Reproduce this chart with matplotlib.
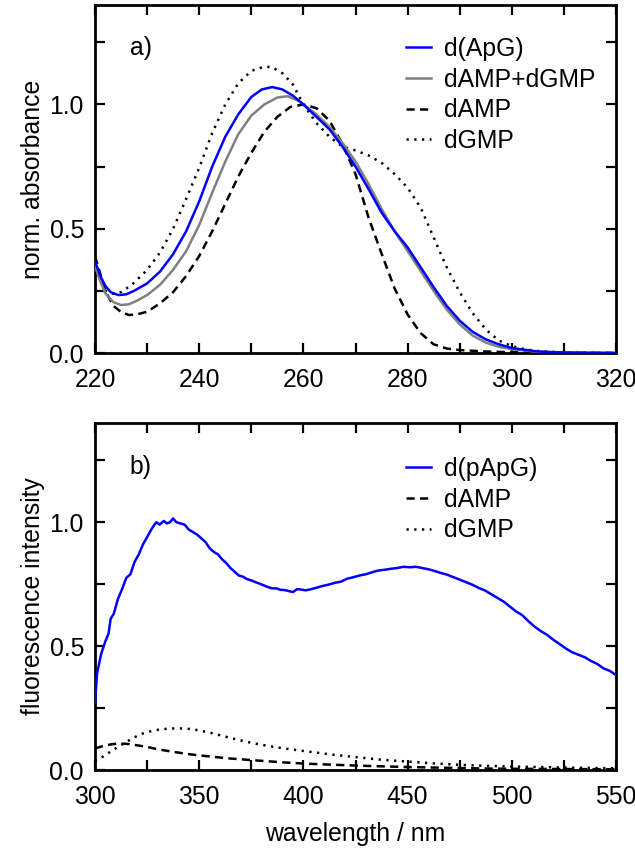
import matplotlib
matplotlib.use("Agg")
import matplotlib.pyplot as plt
from matplotlib.ticker import MultipleLocator

plt.rcParams['font.family'] = ['Liberation Sans', 'DejaVu Sans']

# ---------------- panel a) absorbance ----------------
wl_apg = [220, 221, 222, 223, 224.5, 226, 227.5, 230, 232.5, 235, 237.5, 240, 242.5, 245,
          247.5, 250, 252, 254, 256, 258, 260, 262.5, 265, 267.5, 270, 272.5, 275, 277.5,
          280, 282.5, 285, 287.5, 290, 292.5, 295, 297.5, 300, 305, 310, 320]
abs_apg = [0.37, 0.31, 0.27, 0.245, 0.233, 0.236, 0.25, 0.28, 0.328, 0.398, 0.49, 0.61, 0.75,
           0.87, 0.96, 1.03, 1.06, 1.07, 1.06, 1.035, 1.0, 0.95, 0.90, 0.83, 0.75, 0.66, 0.565,
           0.49, 0.425, 0.345, 0.265, 0.19, 0.13, 0.085, 0.055, 0.035, 0.02, 0.006, 0.002, 0.0]

wl_sum = [220, 221, 222, 223.5, 225, 226.5, 228, 230, 232.5, 235, 237.5, 240, 242.5, 245,
          247.5, 250, 252.5, 255, 257, 259, 260, 262.5, 265, 267.5, 270, 272.5, 275, 277.5,
          280, 282.5, 285, 287.5, 290, 292.5, 295, 297.5, 300, 305, 310, 320]
abs_sum = [0.35, 0.29, 0.24, 0.205, 0.193, 0.196, 0.21, 0.233, 0.275, 0.335, 0.41, 0.515,
           0.645, 0.77, 0.88, 0.955, 1.0, 1.028, 1.033, 1.015, 1.0, 0.96, 0.91, 0.845, 0.77,
           0.68, 0.58, 0.49, 0.41, 0.33, 0.25, 0.175, 0.115, 0.07, 0.042, 0.025, 0.015, 0.005,
           0.001, 0.0]

wl_damp = [220, 221, 222, 223.5, 225, 226.5, 228, 230, 232.5, 235, 237.5, 240, 242.5, 245,
           247.5, 250, 252.5, 255, 257.5, 260, 262.5, 265, 267.5, 270, 272.5, 275, 277.5,
           280, 282.5, 285, 287.5, 290, 295, 300, 310, 320]
abs_damp = [0.39, 0.32, 0.25, 0.19, 0.165, 0.153, 0.155, 0.166, 0.2, 0.245, 0.31, 0.39, 0.49,
            0.6, 0.71, 0.805, 0.89, 0.95, 0.99, 1.0, 0.985, 0.935, 0.84, 0.72, 0.545, 0.40,
            0.26, 0.155, 0.08, 0.035, 0.018, 0.012, 0.006, 0.003, 0.001, 0.0]

wl_dgmp = [220, 221, 222, 223.5, 225, 227, 230, 232.5, 235, 237.5, 240, 242.5, 245, 247.5,
           250, 252.5, 254, 256, 258, 260, 262.5, 265, 267.5, 270, 272.5, 275, 277.5, 280,
           282.5, 285, 287.5, 290, 292.5, 295, 297.5, 300, 302.5, 305, 310, 320]
abs_dgmp = [0.37, 0.30, 0.25, 0.238, 0.245, 0.273, 0.334, 0.405, 0.50, 0.62, 0.745, 0.885,
            1.0, 1.085, 1.135, 1.152, 1.15, 1.125, 1.08, 1.0, 0.925, 0.87, 0.83, 0.815, 0.795,
            0.765, 0.72, 0.665, 0.585, 0.465, 0.345, 0.245, 0.16, 0.095, 0.05, 0.028, 0.015,
            0.008, 0.002, 0.0]

# ---------------- panel b) fluorescence ----------------
wl_fl = [300, 301, 303, 305, 306.5, 307.5, 309, 311, 313, 315, 317, 319, 321, 323, 325, 327,
         328.5, 329.5, 331, 333, 334.5, 336, 337.5, 339, 341, 343, 345, 347, 349, 351, 353,
         355, 357, 359, 361, 363, 365, 367, 369, 371, 373, 375, 377, 379, 381, 383, 385, 387,
         389, 391, 393, 395, 397, 399, 401, 403, 406, 409, 412, 415, 418, 421, 424, 427, 430,
         433, 436, 439, 442, 445, 448, 451, 454, 457, 460, 463, 466, 469, 472, 475, 478, 481,
         484, 487, 490, 493, 496, 499, 502, 505, 508, 511, 514, 517, 520, 523, 526, 529, 532,
         535, 538, 541, 544, 547, 550]
fl_papg = [0.27, 0.39, 0.47, 0.52, 0.55, 0.61, 0.63, 0.69, 0.73, 0.775, 0.79, 0.84, 0.87,
           0.91, 0.94, 0.97, 0.99, 1.0, 0.99, 1.005, 0.995, 1.0, 1.015, 1.0, 0.995, 0.99, 0.97,
           0.96, 0.95, 0.935, 0.92, 0.895, 0.88, 0.87, 0.85, 0.835, 0.815, 0.8, 0.785, 0.78,
           0.77, 0.765, 0.758, 0.752, 0.745, 0.738, 0.733, 0.733, 0.727, 0.726, 0.722, 0.718,
           0.73, 0.728, 0.725, 0.728, 0.735, 0.742, 0.748, 0.755, 0.76, 0.772, 0.778, 0.785,
           0.79, 0.798, 0.805, 0.808, 0.812, 0.815, 0.82, 0.818, 0.82, 0.815, 0.81, 0.803,
           0.795, 0.788, 0.778, 0.768, 0.758, 0.748, 0.735, 0.725, 0.71, 0.695, 0.68, 0.66,
           0.64, 0.625, 0.6, 0.578, 0.56, 0.545, 0.525, 0.508, 0.49, 0.475, 0.465, 0.455, 0.44,
           0.428, 0.41, 0.4, 0.383]

wl_fl_damp = [300, 304, 308, 312, 316, 320, 325, 330, 337, 345, 350, 357, 364, 372, 380, 390,
              400, 412, 425, 437, 450, 462, 475, 487, 500, 525, 550]
fl_damp = [0.087, 0.097, 0.104, 0.107, 0.105, 0.1, 0.093, 0.084, 0.074, 0.064, 0.059, 0.053,
           0.047, 0.042, 0.037, 0.031, 0.026, 0.022, 0.018, 0.015, 0.012, 0.01, 0.008, 0.006,
           0.005, 0.004, 0.003]

wl_fl_dgmp = [300, 303, 306, 310, 314, 318, 322, 326, 330, 335, 340, 345, 350, 356, 362, 369,
              376, 383, 390, 400, 412, 425, 437, 450, 462, 475, 487, 500, 525, 550]
fl_dgmp = [0.035, 0.05, 0.066, 0.088, 0.108, 0.128, 0.145, 0.155, 0.162, 0.167, 0.168, 0.166,
           0.16, 0.149, 0.136, 0.121, 0.108, 0.097, 0.088, 0.077, 0.064, 0.052, 0.042, 0.034,
           0.027, 0.021, 0.017, 0.014, 0.01, 0.007]

FS = 17.8
fig = plt.figure(figsize=(6.35, 8.5), dpi=100)
ax1 = fig.add_axes([0.1496, 0.5847, 0.8205, 0.4094])
ax2 = fig.add_axes([0.1496, 0.0941, 0.8205, 0.4082])

LW = 1.8
dash = (0, (3.3, 2.1))
dot = (0, (0.9, 2.2))

ax1.plot(wl_apg, abs_apg, color='#0000ff', lw=LW, label='d(ApG)', zorder=4)
ax1.plot(wl_sum, abs_sum, color='#808080', lw=LW, label='dAMP+dGMP', zorder=3)
ax1.plot(wl_damp, abs_damp, color='black', lw=LW, ls=dash, label='dAMP', zorder=2)
ax1.plot(wl_dgmp, abs_dgmp, color='black', lw=LW, ls=dot, label='dGMP', zorder=2)

ax2.plot(wl_fl, fl_papg, color='#0000ff', lw=LW, label='d(pApG)', zorder=4)
ax2.plot(wl_fl_damp, fl_damp, color='black', lw=LW, ls=dash, label='dAMP', zorder=2)
ax2.plot(wl_fl_dgmp, fl_dgmp, color='black', lw=LW, ls=dot, label='dGMP', zorder=2)

ax1.set_xlim(220, 320)
ax1.set_ylim(0, 1.4)
ax1.xaxis.set_major_locator(MultipleLocator(20))
ax1.xaxis.set_minor_locator(MultipleLocator(10))
ax2.set_xlim(300, 550)
ax2.set_ylim(0, 1.4)
ax2.xaxis.set_major_locator(MultipleLocator(50))
ax2.xaxis.set_minor_locator(MultipleLocator(25))

for ax in (ax1, ax2):
    ax.yaxis.set_major_locator(MultipleLocator(0.5))
    ax.yaxis.set_minor_locator(MultipleLocator(0.25))
    ax.yaxis.set_major_formatter(plt.FormatStrFormatter('%.1f'))
    for s in ax.spines.values():
        s.set_linewidth(2.0)
    ax.tick_params(which='both', direction='in', top=True, right=True, length=7.2,
                   width=1.6, labelsize=FS)
    ax.tick_params(axis='x', which='both', pad=11)
    ax.tick_params(axis='y', which='both', pad=8)

ax1.set_ylabel('norm. absorbance', fontsize=FS, labelpad=3)
ax2.set_ylabel('fluorescence intensity', fontsize=FS, labelpad=3)
ax2.set_xlabel('wavelength / nm', fontsize=FS, labelpad=9)

ax1.text(0.067, 0.876, 'a)', transform=ax1.transAxes, fontsize=FS, va='center')
ax2.text(0.067, 0.874, 'b)', transform=ax2.transAxes, fontsize=FS, va='center')

ax1.legend(loc='upper left', bbox_to_anchor=(0.597, 0.908), frameon=False,
           fontsize=FS, handlelength=1.0, handletextpad=0.55, labelspacing=0.27,
           borderpad=0, borderaxespad=0)
ax2.legend(loc='upper left', bbox_to_anchor=(0.597, 0.902), frameon=False,
           fontsize=FS, handlelength=1.0, handletextpad=0.55, labelspacing=0.27,
           borderpad=0, borderaxespad=0)

fig.savefig('out.png', dpi=100)
